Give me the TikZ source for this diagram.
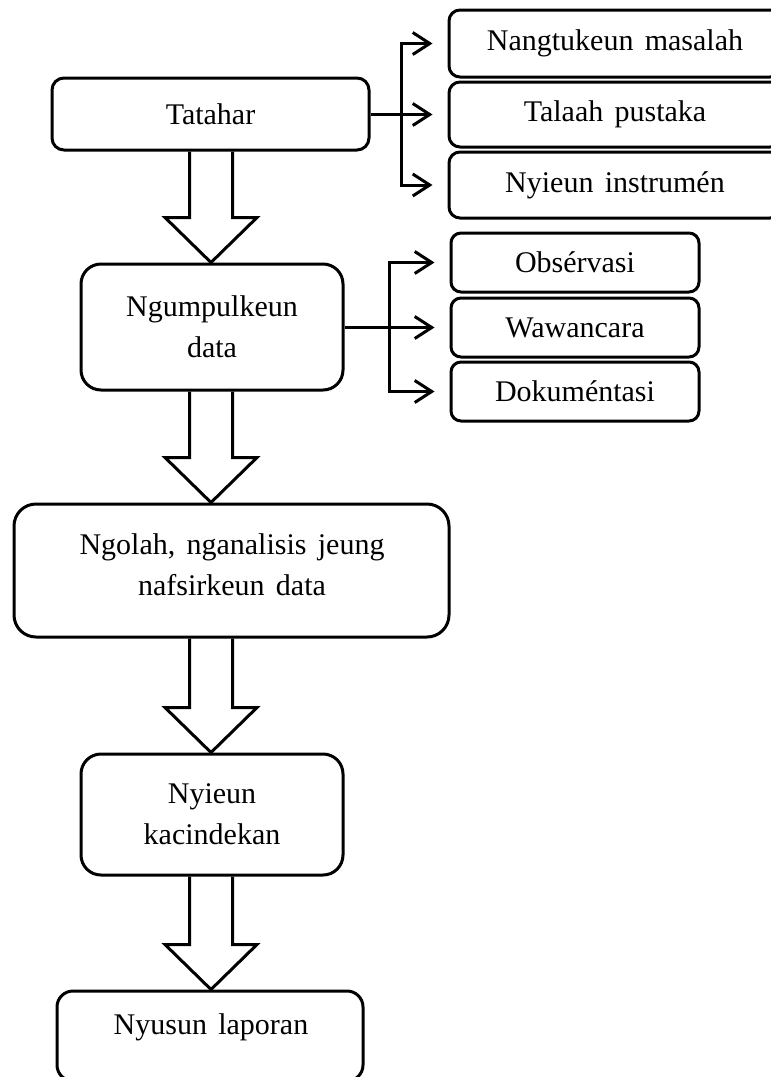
\documentclass[tikz,border=0pt]{standalone}
\usepackage{fontspec}
\setmainfont{Liberation Serif}[WordSpace=1.5]
\usetikzlibrary{arrows.meta,calc}
\newcommand{\blockarrow}[2]{%
  \draw[blk] ($(#1.south -| ax)+(-21.5,0)$) -- ($(#2.north -| ax)+(-21.5,-45)$)
    -- ($(#2.north -| ax)+(-46,-45)$) -- (#2.north -| ax)
    -- ($(#2.north -| ax)+(46,-45)$) -- ($(#2.north -| ax)+(21.5,-45)$)
    -- ($(#1.south -| ax)+(21.5,0)$);}
\begin{document}
\begin{tikzpicture}[x=1pt,y=-1pt,
  every node/.style={font=\fontsize{30}{41}\selectfont},
  box/.style={draw,line width=3pt,rounded corners=#1,align=center,inner sep=0pt},
  box/.default=12pt,
  ln/.style={line width=3pt},
  conn/.style={line width=3pt,shorten >=15pt,-{Straight Barb[length=17pt,width=22pt]}},
  blk/.style={line width=3pt,line join=miter}]
\useasboundingbox (0,0) rectangle (771,1077);
\clip (0,0) rectangle (771,1077);
\coordinate (ax) at (211,0);
\coordinate (br1) at (401,0);
\coordinate (br2) at (389,0);
% main column
\node[box=12pt,minimum width=317pt,minimum height=72pt] (tat) at (210.5,114) {Tatahar};
\node[box=20pt,minimum width=262pt,minimum height=126pt] (ngu) at (212,327) {Ngumpulkeun\\data};
\node[box=22pt,minimum width=435pt,minimum height=133pt] (ngo) at (231.5,570.5) {};
\node (ngot) at (232,565) [align=center] {Ngolah, nganalisis jeung\\nafsirkeun data};
\node[box=20pt,minimum width=262pt,minimum height=121pt] (nyi) at (212,814.5) {Nyieun\\kacindekan};
\node[box=16pt,minimum width=306pt,minimum height=90pt] (nyu) at (210,1036) {};
\node (nyut) at (211,1027) {Nyusun laporan};
% right boxes
\node[box=11pt,minimum width=332pt,minimum height=67pt] (n1) at (615,43.5) {Nangtukeun masalah};
\node[box=11pt,minimum width=332pt,minimum height=65pt] (n2) at (615,114.5) {Talaah pustaka};
\node[box=11pt,minimum width=332pt,minimum height=66pt] (n3) at (615,185) {Nyieun instrumén};
\node[box=10pt,minimum width=248pt,minimum height=59pt] (o1) at (575,262.5) {Obsérvasi};
\node[box=10pt,minimum width=248pt,minimum height=59pt] (o2) at (575,327.5) {Wawancara};
\node[box=10pt,minimum width=248pt,minimum height=59pt] (o3) at (575,391.5) {Dokuméntasi};
% branch connectors
\draw[ln] (tat.east) -- (br1 |- tat.east);
\draw[ln,line cap=rect] (br1 |- n1.west) -- (br1 |- n3.west);
\draw[conn] (br1 |- n1.west) -- (n1.west);
\draw[conn] (br1 |- n2.west) -- (n2.west);
\draw[conn] (br1 |- n3.west) -- (n3.west);
\draw[ln] (ngu.east) -- (br2 |- ngu.east);
\draw[ln,line cap=rect] (br2 |- o1.west) -- (br2 |- o3.west);
\draw[conn] (br2 |- o1.west) -- (o1.west);
\draw[conn] (br2 |- o2.west) -- (o2.west);
\draw[conn] (br2 |- o3.west) -- (o3.west);
% block arrows
\blockarrow{tat}{ngu}
\blockarrow{ngu}{ngo}
\blockarrow{ngo}{nyi}
\blockarrow{nyi}{nyu}
\end{tikzpicture}
\end{document}
